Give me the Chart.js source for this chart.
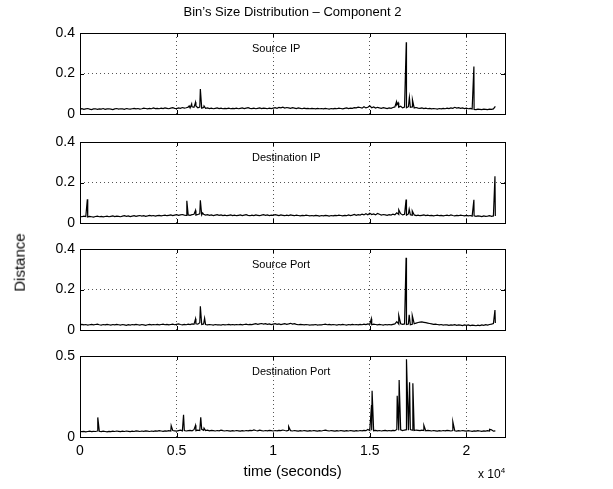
<!DOCTYPE html>
<html>
<head>
<meta charset="utf-8">
<script src="https://cdn.jsdelivr.net/npm/chart.js@4"></script>
<style>
  body { margin: 0; background: #fff; }
  #wrap { position: relative; width: 613px; height: 489px; overflow: hidden; font-family: "Liberation Sans", Arial, sans-serif; color: #000; }
  canvas { position: absolute; left: 0; top: 0; }
  .txt { position: absolute; white-space: nowrap; z-index: 5; line-height: 1; }
</style>
</head>
<body>
<div id="wrap">
  <canvas id="c0" width="613" height="489"></canvas>
  <canvas id="c1" width="613" height="489"></canvas>
  <canvas id="c2" width="613" height="489"></canvas>
  <canvas id="c3" width="613" height="489"></canvas>
  <div class="txt" id="title" style="font-size:13px;">Bin’s Size Distribution – Component 2</div>
  <div class="txt" id="ylab" style="font-size:15px;">Distance</div>
  <div class="txt" id="xlab" style="font-size:15px;">time (seconds)</div>
  <div class="txt" id="xexp" style="font-size:12px;">x 10<sup style="font-size:8px;">4</sup></div>
</div>
<script>
// sampling step of the baseline series (seconds)
var step = 100;

var panelNames = ["Source IP", "Destination IP", "Source Port", "Destination Port"];
var yMax = [0.4, 0.4, 0.4, 0.5];
var yStep = [0.2, 0.2, 0.2, 0.5];
var xTicks = [0, 5000, 10000, 15000, 20000];

// baseline distance, one value every 100 s from 0 to 21500
var srcIpBase = [
  .024,.026,.023,.025,.027,.024,.022,.025,.026,.023,.025,.024,.027,.023,.025,.026,.024,.022,.025,.027,
  .024,.026,.025,.023,.027,.025,.024,.026,.028,.025,.027,.024,.026,.029,.027,.025,.028,.026,.03,.027,
  .028,.026,.029,.027,.03,.028,.026,.029,.031,.028,.027,.03,.028,.032,.029,.031,.034,.03,.036,.033,
  .04,.031,.034,.029,.032,.028,.03,.027,.029,.026,.028,.03,.027,.029,.026,.028,.027,.029,.026,.028,
  .027,.029,.026,.028,.03,.027,.029,.031,.028,.027,.029,.026,.028,.03,.027,.029,.028,.026,.029,.027,
  .029,.031,.028,.033,.03,.034,.029,.032,.03,.028,.031,.029,.027,.03,.028,.026,.029,.027,.028,.026,
  .028,.027,.025,.028,.026,.027,.025,.028,.026,.024,.027,.025,.028,.026,.029,.027,.025,.028,.03,.027,
  .029,.028,.031,.03,.034,.032,.029,.036,.03,.033,.04,.031,.035,.029,.033,.03,.028,.031,.029,.027,
  .03,.028,.032,.035,.045,.033,.038,.03,.034,.031,.036,.033,.035,.03,.032,.029,.028,.03,.027,.029,
  .026,.028,.025,.027,.026,.024,.027,.025,.028,.026,.029,.027,.03,.028,.033,.029,.031,.028,.03,.027,
  .029,.026,.028,.025,.023,.022,.024,.023,.022,.024,.023,.022,.024,.023,.025,.038
];
var dstIpBase = [
  .033,.031,.034,.032,.03,.033,.031,.029,.032,.034,.031,.033,.03,.032,.034,.031,.033,.035,.032,.034,
  .033,.031,.034,.036,.033,.035,.032,.034,.036,.033,.035,.037,.034,.036,.033,.035,.038,.035,.037,.034,
  .036,.038,.035,.037,.039,.036,.038,.04,.037,.039,.041,.038,.04,.042,.039,.037,.04,.038,.041,.043,
  .039,.042,.045,.04,.043,.039,.041,.038,.04,.037,.039,.041,.038,.04,.037,.039,.036,.038,.04,.037,
  .039,.036,.038,.04,.037,.039,.041,.038,.036,.039,.037,.04,.038,.036,.039,.041,.038,.04,.037,.039,
  .038,.041,.039,.037,.04,.038,.036,.039,.037,.04,.038,.036,.039,.037,.035,.038,.036,.039,.037,.035,
  .037,.035,.038,.036,.034,.037,.035,.038,.036,.034,.037,.035,.038,.036,.039,.037,.035,.038,.036,.04,
  .037,.039,.042,.038,.041,.039,.044,.04,.046,.041,.048,.042,.045,.04,.047,.043,.039,.042,.04,.038,
  .041,.039,.044,.041,.05,.042,.046,.04,.043,.039,.045,.041,.038,.04,.037,.039,.036,.038,.04,.037,
  .039,.036,.038,.035,.037,.039,.036,.038,.035,.037,.039,.036,.04,.037,.035,.038,.036,.039,.037,.035,
  .038,.035,.037,.034,.036,.033,.035,.034,.032,.035,.033,.034,.036,.033,.035,.034
];
var srcPortBase = [
  .026,.028,.025,.027,.024,.026,.028,.025,.027,.029,.026,.024,.027,.025,.028,.026,.024,.027,.025,.028,
  .026,.024,.027,.025,.023,.026,.024,.027,.025,.028,.026,.024,.027,.025,.023,.026,.028,.025,.027,.026,
  .028,.025,.027,.029,.026,.028,.025,.027,.029,.026,.028,.03,.027,.025,.028,.026,.029,.027,.03,.028,
  .031,.029,.036,.027,.03,.027,.025,.027,.026,.024,.027,.025,.026,.024,.027,.025,.026,.028,.025,.027,
  .025,.027,.026,.028,.025,.027,.029,.026,.028,.027,.029,.031,.028,.03,.032,.029,.031,.028,.03,.027,
  .029,.031,.028,.03,.027,.029,.031,.028,.03,.033,.029,.031,.028,.026,.028,.027,.025,.027,.026,.024,
  .026,.025,.027,.024,.026,.025,.027,.029,.026,.028,.025,.027,.026,.024,.027,.025,.028,.026,.024,.027,
  .025,.028,.026,.027,.025,.028,.026,.029,.027,.03,.028,.026,.029,.027,.025,.028,.026,.024,.027,.025,
  .027,.025,.028,.03,.041,.029,.031,.028,.03,.027,.029,.026,.028,.031,.034,.037,.039,.04,.038,.036,
  .034,.032,.03,.028,.029,.027,.025,.027,.024,.026,.025,.023,.025,.024,.026,.023,.025,.024,.022,.025,
  .023,.025,.022,.024,.023,.021,.024,.022,.025,.023,.026,.024,.027,.029,.032,.035
];
var dstPortBase = [
  .034,.033,.035,.032,.034,.036,.033,.035,.034,.037,.035,.033,.036,.034,.032,.035,.033,.036,.034,.037,
  .035,.033,.036,.034,.037,.035,.033,.036,.034,.038,.036,.034,.037,.035,.038,.036,.034,.037,.035,.038,
  .036,.039,.037,.035,.038,.036,.039,.037,.04,.038,.036,.039,.042,.038,.04,.037,.039,.041,.038,.045,
  .039,.042,.04,.047,.041,.039,.042,.038,.041,.039,.037,.04,.038,.042,.039,.037,.04,.038,.036,.039,
  .037,.04,.038,.036,.039,.037,.04,.038,.041,.039,.044,.04,.038,.042,.039,.037,.04,.038,.041,.039,
  .037,.04,.038,.041,.039,.043,.04,.038,.041,.039,.037,.04,.038,.036,.039,.037,.04,.038,.036,.039,
  .037,.04,.038,.036,.039,.037,.04,.042,.039,.037,.04,.038,.036,.039,.037,.04,.038,.036,.039,.037,
  .04,.038,.036,.039,.037,.04,.038,.041,.039,.046,.04,.042,.039,.041,.038,.04,.037,.039,.041,.038,
  .04,.038,.041,.039,.047,.041,.044,.04,.043,.045,.041,.046,.042,.04,.043,.041,.039,.042,.04,.038,
  .041,.039,.037,.04,.038,.036,.039,.037,.04,.038,.041,.039,.037,.04,.038,.036,.039,.037,.04,.038,
  .036,.039,.037,.035,.038,.036,.039,.037,.035,.038,.036,.039,.037,.044,.036,.038
];

// isolated spikes: time (s) and height
var srcIpSpikeT = [5650, 5780, 5980, 6230, 6420, 16380, 16470, 16890, 17050, 17210, 20390];
var srcIpSpikeV = [0.04, 0.05, 0.058, 0.123, 0.04, 0.06, 0.055, 0.354, 0.082, 0.07, 0.235];
var dstIpSpikeT = [380, 5530, 5980, 6230, 6350, 16500, 16880, 17040, 17200, 20390, 21480];
var dstIpSpikeV = [0.117, 0.11, 0.062, 0.112, 0.05, 0.065, 0.116, 0.068, 0.06, 0.115, 0.231];
var srcPortSpikeT = [5980, 6230, 6450, 15080, 16500, 16880, 17040, 17200, 21480];
var srcPortSpikeV = [0.055, 0.117, 0.058, 0.055, 0.072, 0.357, 0.075, 0.071, 0.099];
var dstPortSpikeT = [920, 4720, 5360, 5980, 6250, 6420, 10800, 15090, 15120, 16420, 16520, 16900, 17060, 17230, 17800, 19300, 21200];
var dstPortSpikeV = [0.121, 0.07, 0.137, 0.072, 0.121, 0.055, 0.065, 0.197, 0.285, 0.254, 0.352, 0.48, 0.338, 0.332, 0.072, 0.094, 0.048];

var bases = [srcIpBase, dstIpBase, srcPortBase, dstPortBase];
var spikeTs = [srcIpSpikeT, dstIpSpikeT, srcPortSpikeT, dstPortSpikeT];
var spikeVs = [srcIpSpikeV, dstIpSpikeV, srcPortSpikeV, dstPortSpikeV];

// layout (pixels)
var plotLeft = 80, plotRight = 505;
var tops = [33, 142, 249, 356];
var bottoms = [114, 223, 330, 437];
var W = 613, H = 489;

function buildPoints(base, ts, vs) {
  var pts = base.map(function (v, i) { return { x: i * step, y: v }; });
  ts.forEach(function (t, i) { pts.push({ x: t, y: vs[i] }); });
  pts.sort(function (a, b) { return a.x - b.x; });
  return pts;
}

var frame = {
  id: 'frame',
  afterDraw: function (chart) {
    var ctx = chart.ctx, a = chart.chartArea;
    var xs = chart.scales.x, ys = chart.scales.y;
    ctx.save();
    ctx.strokeStyle = '#000';
    ctx.lineWidth = 1;
    ctx.setLineDash([]);
    ctx.strokeRect(Math.round(a.left) + 0.5, Math.round(a.top) + 0.5, Math.round(a.width), Math.round(a.height));
    ctx.beginPath();
    xTicks.forEach(function (v) {
      var p = Math.round(xs.getPixelForValue(v)) + 0.5;
      ctx.moveTo(p, a.bottom); ctx.lineTo(p, a.bottom - 4);
      ctx.moveTo(p, a.top); ctx.lineTo(p, a.top + 4);
    });
    ys.ticks.forEach(function (t) {
      var p = Math.round(ys.getPixelForValue(t.value)) + 0.5;
      ctx.moveTo(a.left, p); ctx.lineTo(a.left + 4, p);
      ctx.moveTo(a.right, p); ctx.lineTo(a.right - 4, p);
    });
    ctx.stroke();
    ctx.restore();
  }
};

Chart.defaults.font.family = '"Liberation Sans", Arial, sans-serif';
Chart.defaults.color = '#000';

for (var k = 0; k < 4; k++) {
  (function (k) {
    var last = k === 3;
    var xAxisH = last ? 24 : 0;
    new Chart(document.getElementById('c' + k), {
      type: 'line',
      data: {
        datasets: [{
          data: buildPoints(bases[k], spikeTs[k], spikeVs[k]),
          borderColor: '#000',
          borderWidth: 1.2,
          pointRadius: 0,
          tension: 0,
          fill: false
        }]
      },
      options: {
        responsive: false,
        animation: false,
        events: [],
        parsing: false,
        layout: { padding: { left: 0, right: W - plotRight, top: tops[k], bottom: H - bottoms[k] - xAxisH } },
        plugins: { legend: { display: false }, tooltip: { enabled: false } },
        scales: {
          x: {
            type: 'linear', min: 0, max: 22000,
            afterBuildTicks: function (s) { s.ticks = xTicks.map(function (v) { return { value: v }; }); },
            afterFit: function (s) { s.height = xAxisH; },
            ticks: {
              display: last, padding: 6, maxRotation: 0, autoSkip: false,
              font: { size: 14 },
              callback: function (v) { return String(v / 10000); }
            },
            grid: {
              drawTicks: false,
              color: function (c) { return (c.tick && c.tick.value > 0 && c.tick.value < 22000) ? '#555' : 'rgba(0,0,0,0)'; },
              lineWidth: 1
            },
            border: { display: false, dash: [1, 3] }
          },
          y: {
            min: 0, max: yMax[k],
            afterFit: function (s) { s.width = plotLeft; },
            ticks: {
              stepSize: yStep[k], padding: 5,
              font: { size: 14 },
              callback: function (v) { return String(Math.round(v * 10) / 10); }
            },
            grid: {
              drawTicks: false,
              color: function (c) { return (c.tick && c.tick.value > 0 && c.tick.value < yMax[k] - 1e-9) ? '#555' : 'rgba(0,0,0,0)'; },
              lineWidth: 1
            },
            border: { display: false, dash: [1, 3] }
          }
        }
      },
      plugins: [frame]
    });
  })(k);
}

// panel labels and outer texts
var wrap = document.getElementById('wrap');
var cx = (plotLeft + plotRight) / 2;
panelNames.forEach(function (name, k) {
  var d = document.createElement('div');
  d.className = 'txt';
  d.style.fontSize = '11px';
  d.textContent = name;
  wrap.appendChild(d);
  d.style.left = '252px';
  d.style.top = (tops[k] + 10) + 'px';
});
function place(id, x, y) {
  var e = document.getElementById(id);
  e.style.left = (x - e.offsetWidth / 2) + 'px';
  e.style.top = (y - e.offsetHeight / 2) + 'px';
  return e;
}
place('title', cx, 11);
place('xlab', cx, 470);
var ex = document.getElementById('xexp');
ex.style.left = (plotRight - ex.offsetWidth) + 'px';
ex.style.top = '467px';
var yl = place('ylab', 19, 262);
yl.style.transform = 'rotate(-90deg)';
</script>
</body>
</html>
